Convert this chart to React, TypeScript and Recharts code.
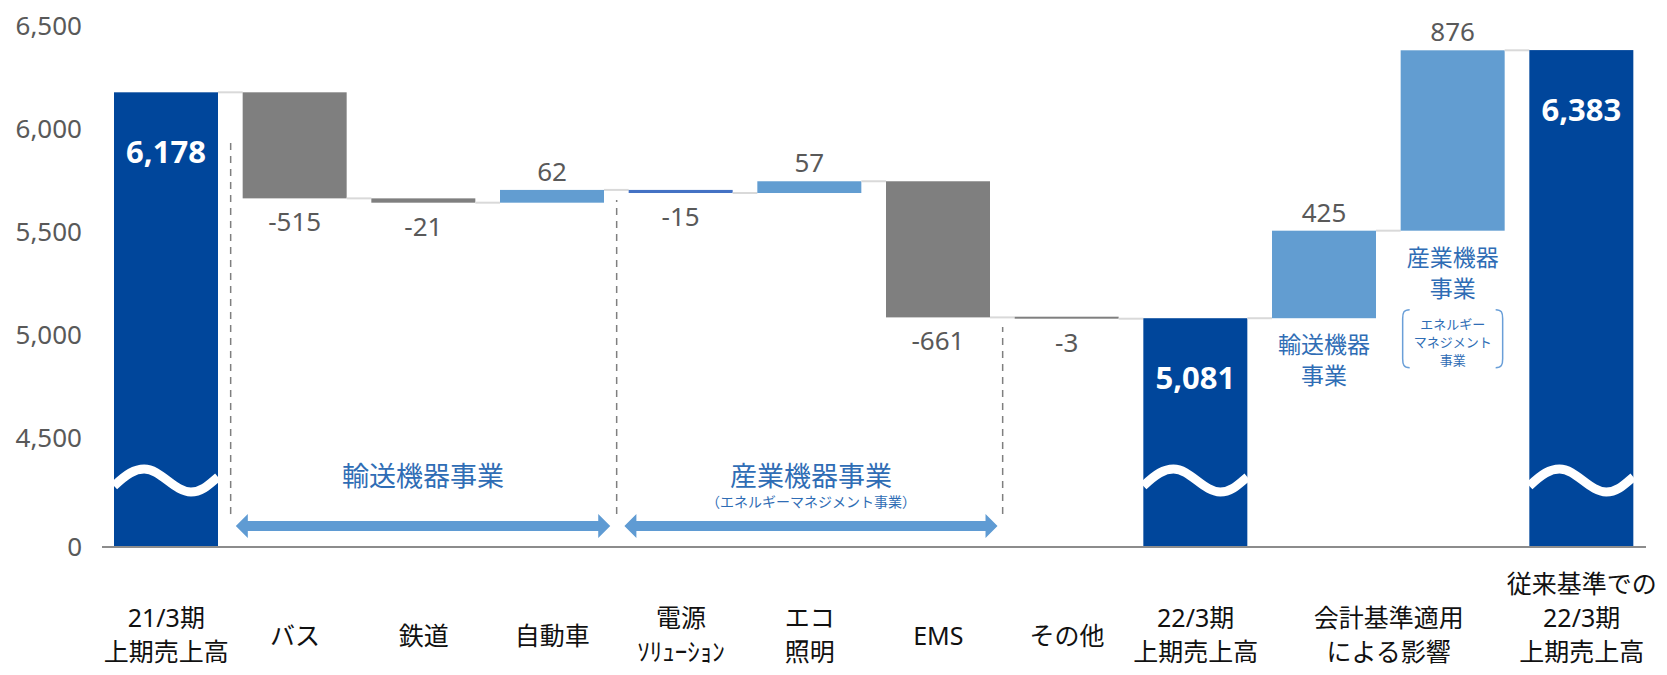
import { BarChart, Bar, XAxis, YAxis, ReferenceLine, LabelList } from "recharts";

// 売上高の増減（億円）
const stepValues = [6178, -515, -21, 62, -15, 57, -661, -3, 5081, 425, 876, 6383];
const stepKinds = ["total", "delta", "delta", "delta", "delta", "delta", "delta", "delta", "total", "delta", "delta", "total"];

const tickPositions = [0, 1, 2, 3, 4, 5, 6, 7, 8, 9.5, 11];
const tickLabels = [
  ["21/3期", "上期売上高"],
  ["バス"],
  ["鉄道"],
  ["自動車"],
  ["電源", "ｿﾘｭｰｼｮﾝ"],
  ["エコ", "照明"],
  ["EMS"],
  ["その他"],
  ["22/3期", "上期売上高"],
  ["会計基準適用", "による影響"],
  ["従来基準での", "22/3期", "上期売上高"],
];

const yTickValues = [0, 4500, 5000, 5500, 6000, 6500];

const impactNotes: Record<number, string[]> = {
  9: ["輸送機器", "事業"],
  10: ["産業機器", "事業"],
};
const emsNote = ["エネルギー", "マネジメント", "事業"];

const barColors = ["#00469B", "#7F7F7F", "#7F7F7F", "#629DD1", "#4472C4", "#629DD1", "#7F7F7F", "#7F7F7F", "#00469B", "#629DD1", "#629DD1", "#00469B"];

// 0〜4,500 の間は省略軸
const AXIS_CUT = 3970;
const t = (v: number) => (v <= 0 ? 0 : v - AXIS_CUT);

let level = 0;
const rows = stepValues.map((v, i) => {
  const total = stepKinds[i] === "total";
  const from = total ? 0 : level;
  const to = total ? v : level + v;
  level = to;
  return { x: i, value: v, total, up: total || v >= 0, range: [t(Math.min(from, to)), t(Math.max(from, to))] };
});

const FONT = "'Noto Sans', 'Noto Sans CJK JP', sans-serif";
const NOTE_BLUE = "#2F6DB5";
const BAND = 1544 / 12;

function StepBar(props: any) {
  const { x, y, width, height, index } = props;
  const row = rows[index];
  const h = Math.max(height, 2);
  const top = height < 2 ? y - (2 - height) / 2 : y;
  const endY = row.up ? top : top + h;
  const yb = y + height;
  return (
    <g>
      <rect x={x} y={top} width={width} height={h} fill={barColors[index]} />
      {row.total && (
        <path
          d={`M${x},${yb - 61} C${x + 0.12 * width},${yb - 73} ${x + 0.2 * width},${yb - 78} ${x + 0.29 * width},${yb - 78} C${x + 0.45 * width},${yb - 78} ${x + 0.58 * width},${yb - 55} ${x + 0.74 * width},${yb - 55} C${x + 0.85 * width},${yb - 55} ${x + 0.93 * width},${yb - 64} ${x + width},${yb - 70}`}
          stroke="#fff"
          strokeWidth={9}
          fill="none"
        />
      )}
      {index < rows.length - 1 && (
        <line x1={x + width} x2={x + BAND} y1={endY} y2={endY} stroke="#D9D9D9" strokeWidth={2} />
      )}
    </g>
  );
}

function StepLabel(props: any) {
  const vb = props.viewBox ?? props;
  const { x, y, width, height } = vb;
  const index = props.index;
  const row = rows[index];
  if (!row) return null;
  const cx = x + width / 2;
  const text = row.value.toLocaleString("en-US");
  const notes = impactNotes[index];
  const yb = y + height;
  return (
    <g>
      {row.total ? (
        <text x={cx} y={y + 59} fill="#fff" fontSize={31} fontWeight={700} textAnchor="middle" dominantBaseline="central">
          {text}
        </text>
      ) : (
        <text x={cx} y={row.up ? y - 19 : y + Math.max(height, 2) + 23} fill="#595959" fontSize={26} textAnchor="middle" dominantBaseline="central">
          {text}
        </text>
      )}
      {notes && (
        <text x={cx} y={yb + 26} fill={NOTE_BLUE} fontSize={23} textAnchor="middle" dominantBaseline="central">
          {notes.map((n, k) => (
            <tspan key={k} x={cx} dy={k === 0 ? 0 : 31}>
              {n}
            </tspan>
          ))}
        </text>
      )}
      {index === 10 && (
        <g>
          <path
            d={`M${x + 9},${yb + 79} C${x + 3},${yb + 79} ${x + 2},${yb + 82} ${x + 2},${yb + 88} L${x + 2},${yb + 128} C${x + 2},${yb + 134} ${x + 3},${yb + 137} ${x + 9},${yb + 137}`}
            stroke="#6A9FD8"
            strokeWidth={1.5}
            fill="none"
          />
          <path
            d={`M${x + width - 9},${yb + 79} C${x + width - 3},${yb + 79} ${x + width - 2},${yb + 82} ${x + width - 2},${yb + 88} L${x + width - 2},${yb + 128} C${x + width - 2},${yb + 134} ${x + width - 3},${yb + 137} ${x + width - 9},${yb + 137}`}
            stroke="#6A9FD8"
            strokeWidth={1.5}
            fill="none"
          />
          <text x={cx} y={yb + 93} fill={NOTE_BLUE} fontSize={13} textAnchor="middle" dominantBaseline="central">
            {emsNote.map((n, k) => (
              <tspan key={k} x={cx} dy={k === 0 ? 0 : 18}>
                {n}
              </tspan>
            ))}
          </text>
        </g>
      )}
    </g>
  );
}

function CategoryTick({ x, y, payload }: any) {
  const i = tickPositions.indexOf(payload.value);
  const lines = tickLabels[i] ?? [];
  const n = lines.length;
  const lastY = n === 1 ? y + 80 : y + 96;
  const gap = 34;
  return (
    <text x={x} y={lastY - (n - 1) * gap} textAnchor="middle" dominantBaseline="central" fontSize={25} fill="#111">
      {lines.map((ln, k) => (
        <tspan key={k} x={x} dy={k === 0 ? 0 : gap}>
          {ln}
        </tspan>
      ))}
    </text>
  );
}

const groupArrow = (title: string, sub?: string) => (p: any) => {
  const { x1, y1, x2 } = p;
  const st = 5;
  const hh = 12;
  const hl = 12;
  const y = y1;
  const pts = [
    [x1, y], [x1 + hl, y - hh], [x1 + hl, y - st], [x2 - hl, y - st], [x2 - hl, y - hh],
    [x2, y], [x2 - hl, y + hh], [x2 - hl, y + st], [x1 + hl, y + st], [x1 + hl, y + hh],
  ].map((q) => q.join(",")).join(" ");
  const cx = (x1 + x2) / 2;
  return (
    <g>
      <polygon points={pts} fill="#5F9BD3" />
      <text x={cx} y={y - 50} fill={NOTE_BLUE} fontSize={27} textAnchor="middle" dominantBaseline="central">
        {title}
      </text>
      {sub && (
        <text x={cx} y={y - 24} fill={NOTE_BLUE} fontSize={14} textAnchor="middle" dominantBaseline="central">
          {sub}
        </text>
      )}
    </g>
  );
};

const ARROW_Y = 102;
const GUIDE_BOTTOM = 160;

export default function App() {
  const yTicks = yTickValues.map(t);
  return (
    <div style={{ fontFamily: FONT, height: 659, overflow: "hidden" }}>
      <BarChart width={1651} height={667} data={rows} margin={{ top: 18, right: 13, bottom: 28, left: 0 }}>
        <XAxis
          dataKey="x"
          type="number"
          domain={[-0.5, 11.5]}
          ticks={tickPositions}
          interval={0}
          tickLine={false}
          axisLine={{ stroke: "#8C8C8C", strokeWidth: 2 }}
          tick={<CategoryTick />}
          height={100}
        />
        <YAxis
          type="number"
          domain={[0, t(6500)]}
          ticks={yTicks}
          interval={0}
          width={94}
          axisLine={false}
          tickLine={false}
          tickMargin={14}
          tick={{ fill: "#595959", fontSize: 26 }}
          tickFormatter={(v: number) => yTickValues[yTicks.indexOf(v)].toLocaleString("en-US")}
        />
        <Bar dataKey="range" barSize={104} shape={StepBar} isAnimationActive={false}>
          <LabelList dataKey="value" content={StepLabel} />
        </Bar>
        <ReferenceLine segment={[{ x: 0.5, y: GUIDE_BOTTOM }, { x: 0.5, y: t(5960) }]} stroke="#7F7F7F" strokeDasharray="7 6" strokeWidth={1.5} />
        <ReferenceLine segment={[{ x: 3.5, y: GUIDE_BOTTOM }, { x: 3.5, y: t(5655) }]} stroke="#7F7F7F" strokeDasharray="7 6" strokeWidth={1.5} />
        <ReferenceLine segment={[{ x: 6.5, y: GUIDE_BOTTOM }, { x: 6.5, y: t(5038) }]} stroke="#7F7F7F" strokeDasharray="7 6" strokeWidth={1.5} />
        <ReferenceLine segment={[{ x: 0.54, y: ARROW_Y }, { x: 3.45, y: ARROW_Y }]} shape={groupArrow("輸送機器事業")} />
        <ReferenceLine
          segment={[{ x: 3.56, y: ARROW_Y }, { x: 6.46, y: ARROW_Y }]}
          shape={groupArrow("産業機器事業", "（エネルギーマネジメント事業）")}
        />
      </BarChart>
    </div>
  );
}
